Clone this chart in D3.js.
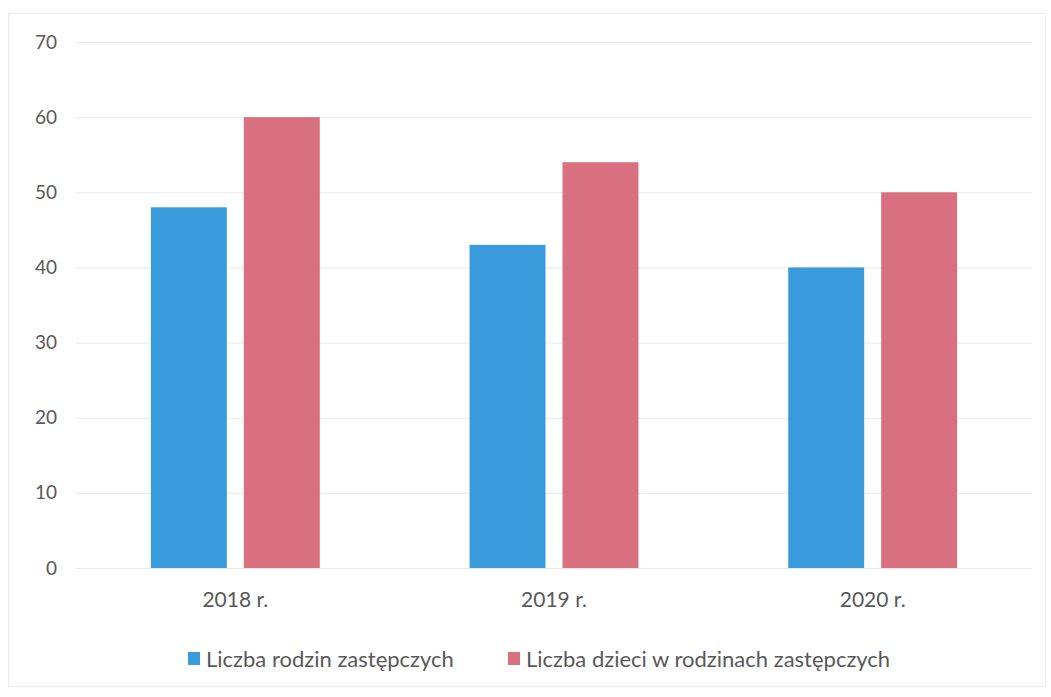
<!DOCTYPE html>
<html>
<head>
<meta charset="utf-8">
<script src="https://cdn.jsdelivr.net/npm/d3@7"></script>
<style>
  html, body { margin: 0; padding: 0; background: #fff; }
  svg text { font-family: Lato, "Open Sans", sans-serif; fill: #595959; }
</style>
</head>
<body>
<div id="chart"></div>
<script>
var categories = ["2018 r.", "2019 r.", "2020 r."];
var seriesNames = ["Liczba rodzin zastępczych", "Liczba dzieci w rodzinach zastępczych"];
var families = [48, 43, 40];
var children = [60, 54, 50];
var yTicks = [0, 10, 20, 30, 40, 50, 60, 70];
var colors = ["#3a9bdc", "#d9707f"];

var W = 1051, H = 697;
var margin = {top: 42, right: 19, bottom: 129, left: 76};
var width = W - margin.left - margin.right,
    height = H - margin.top - margin.bottom;

var rows = categories.map(function(c, i){
  return {label: c, values: [families[i], children[i]]};
});

var svg = d3.select("#chart").append("svg")
  .attr("width", W)
  .attr("height", H);

// faint frame of the chart area
svg.append("rect")
  .attr("x", 8.5).attr("y", 13.5)
  .attr("width", W - 14).attr("height", H - 24)
  .attr("fill", "none")
  .attr("stroke", "#ececec");

var g = svg.append("g")
  .attr("transform", "translate(" + margin.left + "," + margin.top + ")");

var y = d3.scaleLinear().domain([0, 70]).range([height, 0]);
var x0 = d3.scaleBand().domain(categories).range([0, width])
  .paddingInner(0.47).paddingOuter(0.235);
var x1 = d3.scaleBand().domain([0, 1]).range([0, x0.bandwidth()]).paddingInner(0.183);

// gridlines
g.append("g")
  .attr("class", "grid")
  .call(d3.axisLeft(y).tickValues(yTicks).tickSize(-width).tickFormat(""))
  .call(function(s){
    s.select(".domain").remove();
    s.selectAll(".tick line").attr("stroke", "#e9e9e9");
  });

// y labels
g.append("g")
  .attr("class", "yaxis")
  .call(d3.axisLeft(y).tickValues(yTicks).tickSize(0).tickPadding(19))
  .call(function(s){
    s.select(".domain").remove();
    s.selectAll("text").style("font-size", "19px").attr("fill", "#595959")
      .style("font-family", "Lato, sans-serif");
  });

// bars
var groups = g.selectAll(".cat")
  .data(rows)
  .enter().append("g")
  .attr("class", "cat")
  .attr("transform", function(d){ return "translate(" + x0(d.label) + ",0)"; });

groups.selectAll("rect")
  .data(function(d){ return d.values.map(function(v, i){ return {i: i, v: v}; }); })
  .enter().append("rect")
  .attr("x", function(d){ return x1(d.i); })
  .attr("y", function(d){ return y(d.v); })
  .attr("width", x1.bandwidth())
  .attr("height", function(d){ return y(0) - y(d.v); })
  .attr("fill", function(d){ return colors[d.i]; });

// x labels
g.append("g")
  .attr("class", "xaxis")
  .attr("transform", "translate(0," + height + ")")
  .call(d3.axisBottom(x0).tickSize(0).tickPadding(24))
  .call(function(s){
    s.select(".domain").remove();
    s.selectAll("text").style("font-size", "21px").attr("fill", "#595959")
      .style("font-family", "Lato, sans-serif");
  });

// legend
var legendX = [188, 508];
var legend = svg.append("g").attr("class", "legend");
seriesNames.forEach(function(name, i){
  var lg = legend.append("g").attr("transform", "translate(" + legendX[i] + ",652)");
  lg.append("rect").attr("width", 12).attr("height", 13).attr("fill", colors[i]);
  lg.append("text").attr("x", 18).attr("y", 15)
    .style("font-size", "22px")
    .text(name);
});
</script>
</body>
</html>
